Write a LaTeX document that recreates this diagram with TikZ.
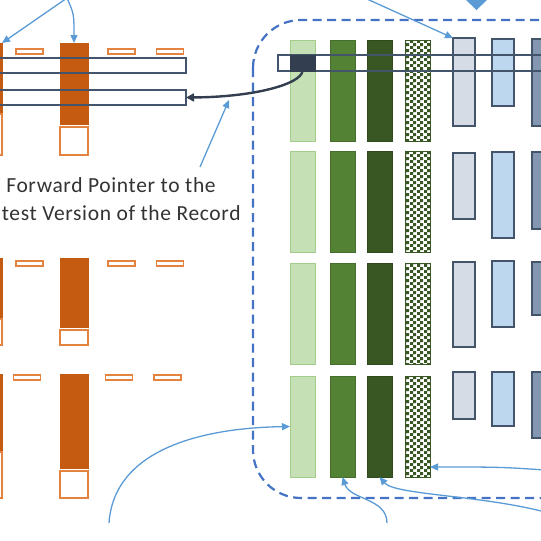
\documentclass[tikz,border=0pt]{standalone}
\usepackage{fontspec}
\setmainfont{Carlito}
\newfontfamily\widefont[LetterSpace=3]{Carlito}
\usetikzlibrary{arrows.meta,patterns}

\definecolor{orangefill}{HTML}{C55A11}
\definecolor{orangeline}{HTML}{E4823F}
\definecolor{lightgreen}{HTML}{C5E0B4}
\definecolor{lgedge}{HTML}{A4CC8A}
\definecolor{midgreen}{HTML}{548235}
\definecolor{darkgreen}{HTML}{385723}
\definecolor{slate}{HTML}{44546A}
\definecolor{navy}{HTML}{333F50}
\definecolor{palegray}{HTML}{D6DCE5}
\definecolor{paleblue}{HTML}{BDD7EE}
\definecolor{steel}{HTML}{8497B0}
\definecolor{arrowblue}{HTML}{5B9BD5}
\definecolor{dashblue}{HTML}{4472C4}
\definecolor{txtgray}{HTML}{333333}

\pgfdeclarepatternformonly{chk}{\pgfpointorigin}{\pgfpoint{6.4pt}{6.4pt}}{\pgfpoint{6.4pt}{6.4pt}}{%
  \pgfpathrectangle{\pgfpointorigin}{\pgfpoint{3.2pt}{3.2pt}}%
  \pgfpathrectangle{\pgfpoint{3.2pt}{3.2pt}}{\pgfpoint{3.2pt}{3.2pt}}%
  \pgfusepath{fill}}

\begin{document}
\begin{tikzpicture}[x=1pt,y=-1pt,
	cell/.style={rectangle,inner sep=0pt,outer sep=0pt,minimum width=25pt},
	lgr/.style={cell,fill=lightgreen,draw=lgedge,line width=1pt},
	mgr/.style={cell,fill=midgreen,draw=midgreen!85!black,line width=.8pt},
	dgr/.style={cell,fill=darkgreen,draw=darkgreen!85!black,line width=.8pt},
	checks/.style={cell,fill=white,draw=darkgreen,line width=.6pt,postaction={pattern=chk,pattern color=darkgreen}},
	gcol/.style={cell,minimum width=22pt,fill=palegray,draw=slate,line width=1.8pt},
	bcol/.style={gcol,fill=paleblue},
	scol/.style={gcol,fill=steel},
	ofill/.style={cell,minimum width=28pt,fill=orangefill,draw=orangefill,line width=.6pt},
	obox/.style={cell,minimum width=28pt,fill=white,draw=orangeline,line width=1.5pt},
	obar/.style={cell,minimum width=27pt,minimum height=5pt,fill=white,draw=orangeline,line width=1.5pt},
	lbar/.style={cell,minimum width=206pt,minimum height=15pt,draw=slate,line width=2pt},
	blu/.style={draw=arrowblue,line width=1.3pt,-{Triangle[length=8pt,width=7pt]}},
	lbl/.style={align=center,text=txtgray,font=\widefont\fontsize{21.5}{28}\selectfont}]
	\useasboundingbox (0,0) rectangle (541,541);
	\clip (0,0) rectangle (541,541);

	% old versions (orange)
	\foreach \g/\t/\m/\b/\lm/\sb/\dx in {1/43/124/155/112/51.5/0, 2/258/327/345/317/263.5/0, 3/374/468/498/450/377.5/-2.5}{
		\node[ofill,minimum height={\m-\t}] (o\g) at (74,{(\t+\m)/2}) {};
		\node[obox,minimum height={\b-\m-3}] (ob\g) at (74,{(\m+3+\b)/2}) {};
		\node[ofill,minimum width=32pt,minimum height={\lm-\t}] (l\g) at (-14,{(\t+\lm)/2}) {};
		\node[obox,minimum width=32pt,minimum height={\b-\lm-2}] (lb\g) at (-14,{(\lm+2+\b)/2}) {};
		\foreach \k/\x in {1/29.5,2/121.5,3/170}
			\node[obar] (s\g\k) at ({\x+(\dx)},\sb) {};
	}
	\node[lbar] (bar1) at (83,65.5) {};
	\node[lbar] (bar2) at (83,97.5) {};

	% column groups (green)
	\foreach \r/\y in {1/90.5,2/201.5,3/314,4/426.5}{
		\node[lgr,minimum height=101pt] (g\r1) at (302.5,\y) {};
		\node[mgr,minimum height=101pt] (g\r2) at (342.5,\y) {};
		\node[dgr,minimum height=101pt] (g\r3) at (379.5,\y) {};
		\node[checks,minimum height=101pt] (g\r4) at (417.5,\y) {};
	}
	% columns (grey and blue)
	\foreach \n/\s/\x/\t/\b in {a1/gcol/464/38/126, a2/gcol/464/153/219, a3/gcol/464/262/347, a4/gcol/464/372/419,
		b1/bcol/503/39/106, b2/bcol/503/152/238, b3/bcol/503/261/327, b4/bcol/503/372/426,
		c1/scol/543/39/126, c2/scol/543/152/229, c3/scol/543/262/315, c4/scol/543/372/438}
		\node[\s,minimum height={\b-\t}] (\n) at (\x,{(\t+\b)/2}) {};

	\node[lbar,minimum width=324pt,minimum height=16pt] (rbar) at (440,63) {};
	\node[cell,minimum height=16pt,fill=navy,draw=navy,line width=1pt] (dsq) at (302.5,63) {};

	\draw[dashblue,line width=2.2pt,dash pattern=on 9pt off 5.5pt,rounded corners=48pt] (253,20) rectangle (640,498);
	\fill[arrowblue] (465,-1) -- (488,-1) -- (476.5,10) -- cycle;

	\node[lbl] (fwd) at (111,199) {Forward Pointer to the\\Latest Version of the Record};

	\coordinate (topsrc) at (67,-2);
	\coordinate (toptail) at (367,-1);
	\coordinate (ptrtail) at (200,167);
	\coordinate (ptrhead) at (229,100);
	\coordinate (btail1) at (109,523);
	\coordinate (btail2) at (387,523);
	\coordinate (btail3) at (545,512);
	\coordinate (btail4) at (545,470);

	\draw[navy,line width=2.4pt,-{Triangle[length=8pt,width=8pt]}] (dsq.south) .. controls (301,84) and (255,97) .. (bar2.east);
	\draw[blu] (topsrc) -- (l1.north east);
	\draw[blu] (topsrc) .. controls (74,14) .. (o1.north);
	\draw[blu] (toptail) -- (a1.north west);
	\draw[blu] (ptrtail) -- (ptrhead);
	\draw[blu] (btail1) .. controls (114,450) and (200,428) .. (g41.west);
	\draw[blu] (btail2) .. controls (387,498) and (350,500) .. (g42.south);
	\draw[blu] (btail3) .. controls (480,495) and (395,495) .. (g43.south);
	\draw[blu] (btail4) .. controls (500,467) .. ([yshift=10pt]g44.south east);
\end{tikzpicture}
\end{document}
